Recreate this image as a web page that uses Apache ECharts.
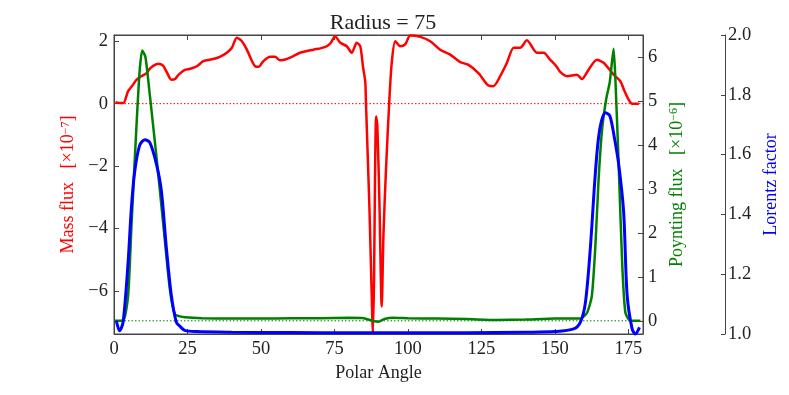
<!DOCTYPE html>
<html>
<head>
<meta charset="utf-8">
<script src="https://cdn.jsdelivr.net/npm/echarts@6/dist/echarts.min.js"></script>
<style>
  html, body { margin: 0; padding: 0; background: #fff; }
  #chart { width: 789px; height: 395px; }
</style>
</head>
<body>
<div id="chart"></div>
<script>
// polar angle (deg) and mass flux [x1e-7]
var massAngle = [0.5, 2, 3.2, 4.8, 6.5, 7.7, 9.3, 11.1, 12.2, 13.5, 15, 16.7, 18, 19.5, 20.8, 22, 24.1, 26, 28.2, 30.4,
  33.8, 36, 38.4, 40.1, 41.8, 43.5, 45.2, 47, 48, 49.2, 50.8, 53.1, 54.8, 56.5, 58.8, 61, 63.3, 67.9, 70.5, 72.4,
  73.8, 75.2, 77, 79.2, 80.9, 82.6, 83.8, 84.7, 85.5, 85.7, 86.9, 87.6, 88.1, 88.5, 88.8, 89.2, 89.6, 90.3, 91.1, 91.7,
  92.6, 93.7, 94.5, 95.7, 97.4, 99.1, 100.8, 104.2, 107.6, 111, 114.4, 117.8, 120.5, 124, 127.4, 129.1, 131.4, 133.7, 136, 138.2,
  140.5, 143.9, 146.2, 148.4, 150.5, 152, 154.1, 157.5, 159.2, 161.5, 164.3, 166.6, 170, 172.3, 173.5, 175.1, 176.3, 178.6];
var massFlux = [0.05, 0.02, 0.02, 0.4, 0.61, 0.77, 0.88, 0.98, 1.12, 1.22, 1.28, 1.22, 1.0, 0.77, 0.79, 0.93, 1.08, 1.12, 1.2, 1.36,
  1.43, 1.5, 1.63, 1.79, 2.11, 2.0, 1.73, 1.35, 1.2, 1.18, 1.36, 1.5, 1.5, 1.39, 1.43, 1.52, 1.63, 1.73, 1.78, 1.84,
  1.95, 2.16, 1.95, 1.84, 1.63, 1.95, 1.84, 1.2, 0.7, 0.13, -3.3, -5.8, -7.35, -5.5, -2.5, -0.41, -0.7, -3.1, -6.5, -4.15,
  -2.0, 0.13, 1.3, 2.0, 1.84, 1.9, 2.18, 2.14, 2.0, 1.73, 1.57, 1.33, 1.25, 0.98, 0.58, 0.56, 0.88, 1.31, 1.79, 1.79,
  2.03, 1.63, 1.63, 1.41, 1.2, 1.0, 0.88, 0.93, 0.79, 1.09, 1.41, 1.31, 0.93, 0.72, 0.45, 0.13, 0.0, 0.0];

// polar angle (deg) and Poynting flux [x1e-6]
var poyntAngle = [0.3, 3.1, 4.8, 5.9, 7.6, 8.7, 9.6, 10.7, 12.2, 14.4, 16.7, 19, 20.7, 22.5, 24.1, 30, 40, 50, 60, 70,
  80, 85, 88, 90, 92, 95, 100, 110, 120, 130, 140, 150, 158.7, 161, 162.6, 163.8, 164.9, 166.1, 167.5, 168.7,
  170, 170.6, 171.7, 172.9, 174, 175.7, 179.1];
var poyntFlux = [0, 0, 0.57, 2.09, 4.37, 5.66, 6.15, 6.0, 5.13, 3.76, 2.24, 0.72, 0.15, 0.1, 0.08, 0.06, 0.05, 0.05, 0.06, 0.06,
  0.07, 0.06, 0.0, -0.02, 0.04, 0.07, 0.06, 0.05, 0.04, 0.02, 0.03, 0.05, 0.05, 0.19, 0.57, 1.71, 3.23, 4.37, 5.05, 5.43,
  6.19, 5.5, 3.6, 1.33, 0.19, 0, 0];

// polar angle (deg) and Lorentz factor
var lorentzAngle = [0.8, 1.9, 3.1, 4.8, 5.9, 7, 8.7, 10.5, 12.2, 14.4, 16.1, 17.8, 19.5, 21.2, 22.5, 24.1, 28, 40, 60, 80,
  100, 120, 140, 150, 156.4, 158.7, 160.4, 162.1, 163.8, 165.2, 167.2, 168.7, 170.2, 171.7, 173.4, 174.6, 176.3, 177.4, 178.8];
var lorentzFactor = [1.044, 1.011, 1.04, 1.24, 1.42, 1.54, 1.63, 1.65, 1.64, 1.57, 1.48, 1.29, 1.13, 1.04, 1.025, 1.012, 1.008, 1.006, 1.005, 1.004,
  1.004, 1.004, 1.006, 1.008, 1.017, 1.04, 1.105, 1.29, 1.54, 1.68, 1.74, 1.73, 1.66, 1.57, 1.41, 1.13, 1.017, 1.0, 1.022];

// zero reference lines (dotted) across the full angle range
var zeroAngle = [0, 180];
var zeroValue = [0, 0];

var xTicks = [0, 25, 50, 75, 100, 125, 150, 175];

function pairs(xs, ys) {
  var out = [];
  for (var i = 0; i < xs.length; i++) out.push([xs[i], ys[i]]);
  return out;
}

var FONT = '"Liberation Serif", "DejaVu Serif", serif';
var AXC = '#444';
var TXT = '#222';
var TICKFS = 18.5;

function minus(v) { return String(v).replace('-', '\u2212'); }

var chart = echarts.init(document.getElementById('chart'));

var xBase = {
  type: 'value', min: 0, max: 180, interval: 25,
  splitLine: { show: false },
  axisLine: { show: true, onZero: false, lineStyle: { color: AXC, width: 1 } },
  axisTick: { show: true, inside: true, length: 5, lineStyle: { color: AXC } }
};

function yBase(extra) {
  return Object.assign({
    type: 'value',
    splitLine: { show: false },
    axisLine: { show: true, onZero: false, lineStyle: { color: AXC } },
    axisTick: { show: true, inside: true, length: 5, lineStyle: { color: AXC } },
    nameLocation: 'middle', nameRotate: 90
  }, extra);
}

function zeroLine(color, yIdx) {
  return {
    type: 'line', xAxisIndex: 0, yAxisIndex: yIdx, z: 1, silent: true,
    data: pairs(zeroAngle, zeroValue), showSymbol: false,
    itemStyle: { color: color },
    lineStyle: { color: color, type: [1.5, 2], width: 1 }
  };
}

chart.setOption({
  animation: false,
  backgroundColor: '#fff',
  title: {
    text: 'Radius = 75', left: 378, top: 7, textAlign: 'center',
    textStyle: { fontFamily: FONT, fontSize: 22, fontWeight: 'normal', color: TXT }
  },
  grid: { left: 114, right: 146, top: 35, bottom: 61, show: true, borderColor: AXC, borderWidth: 1 },
  xAxis: [
    Object.assign({}, xBase, {
      position: 'bottom',
      name: 'Polar Angle', nameLocation: 'middle', nameGap: 25,
      nameTextStyle: { fontFamily: FONT, fontSize: 18, color: TXT },
      axisLabel: {
        fontFamily: FONT, fontSize: TICKFS, color: TXT, margin: 6, showMaxLabel: false,
        formatter: function (v) { return xTicks.indexOf(v) >= 0 ? String(v) : ''; }
      }
    }),
    Object.assign({}, xBase, { position: 'top', axisLabel: { show: false } })
  ],
  yAxis: [
    yBase({
      position: 'left', min: -7.38, max: 2.2, splitNumber: 5,
      axisLabel: {
        fontFamily: FONT, fontSize: TICKFS, color: TXT, margin: 6, showMinLabel: false, showMaxLabel: false,
        formatter: minus
      },
      name: 'Mass flux   [\u00d710{sup|\u22127}]', nameGap: 30,
      nameTextStyle: {
        fontFamily: FONT, fontSize: 18, color: '#ff0000',
        rich: { sup: { fontFamily: FONT, fontSize: 12, color: '#ff0000', verticalAlign: 'top' } }
      }
    }),
    yBase({
      position: 'right', min: -0.3, max: 6.5, splitNumber: 7,
      axisLabel: {
        fontFamily: FONT, fontSize: TICKFS, color: TXT, margin: 5, showMinLabel: false, showMaxLabel: false,
        formatter: minus
      },
      name: 'Poynting flux   [\u00d710{sup|\u22126}]', nameGap: 18,
      nameTextStyle: {
        fontFamily: FONT, fontSize: 18, color: '#008000',
        rich: { sup: { fontFamily: FONT, fontSize: 12, color: '#008000', verticalAlign: 'top' } }
      }
    }),
    yBase({
      position: 'right', offset: 82, min: 1, max: 2, interval: 0.2,
      axisTick: { show: true, inside: true, length: 4, lineStyle: { color: AXC } },
      axisLabel: {
        fontFamily: FONT, fontSize: TICKFS, color: TXT, margin: 3,
        formatter: function (v) { return v.toFixed(1); }
      },
      name: 'Lorentz factor', nameGap: 30,
      nameTextStyle: { fontFamily: FONT, fontSize: 18, color: '#0000ff' }
    })
  ],
  series: [
    zeroLine('#ff0000', 0),
    zeroLine('#008000', 1),
    {
      name: 'Mass flux', type: 'line', xAxisIndex: 0, yAxisIndex: 0, z: 2,
      data: pairs(massAngle, massFlux), showSymbol: false, smooth: 0.25, clip: true,
      itemStyle: { color: '#ff0000' },
      lineStyle: { color: '#ff0000', width: 2.5 }
    },
    {
      name: 'Poynting flux', type: 'line', xAxisIndex: 0, yAxisIndex: 1, z: 3,
      data: pairs(poyntAngle, poyntFlux), showSymbol: false, smooth: 0.2, clip: false,
      itemStyle: { color: '#008000' },
      lineStyle: { color: '#008000', width: 2.5 }
    },
    {
      name: 'Lorentz factor', type: 'line', xAxisIndex: 0, yAxisIndex: 2, z: 4,
      data: pairs(lorentzAngle, lorentzFactor), showSymbol: false, smooth: 0.3, clip: false,
      itemStyle: { color: '#0000ff' },
      lineStyle: { color: '#0000ff', width: 3 }
    }
  ]
});
</script>
</body>
</html>
